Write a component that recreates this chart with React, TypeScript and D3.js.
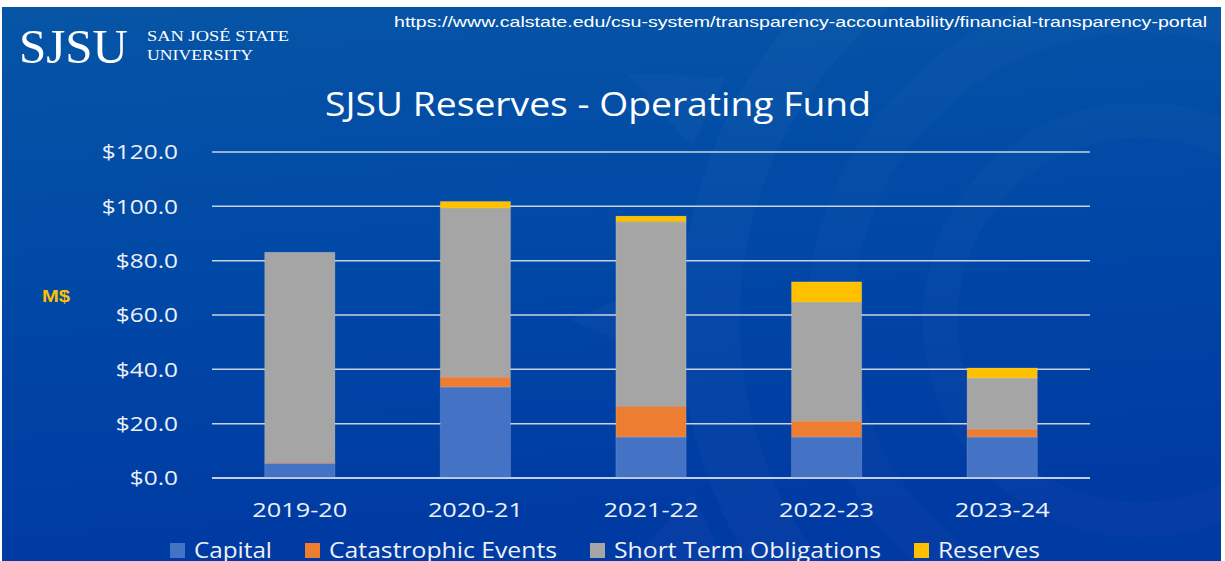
import React from "react";
import * as d3 from "d3";

const categories = ["2019-20", "2020-21", "2021-22", "2022-23", "2023-24"];
const seriesNames = ["Capital", "Catastrophic Events", "Short Term Obligations", "Reserves"];
const capital = [5.3, 33.5, 15.1, 15.1, 15.1];
const catastrophic = [0.3, 3.7, 11.3, 5.9, 2.9];
const shortTerm = [77.5, 62.1, 67.9, 43.7, 18.8];
const reserves = [0, 2.5, 2.1, 7.5, 3.7];
const yTicks = [0, 20, 40, 60, 80, 100, 120];

const colors = ["#4472C4", "#ED7D31", "#A5A5A5", "#FFC000"];
const legendTextWidths = [78, 228, 267, 102];

const W = 1225;
const H = 561;
const plotLeft = 212;
const plotRight = 1090;
const plotTop = 152;
const plotBottom = 478;

export default function App() {
  const rows = categories.map((c, i) => ({
    cat: c,
    [seriesNames[0]]: capital[i],
    [seriesNames[1]]: catastrophic[i],
    [seriesNames[2]]: shortTerm[i],
    [seriesNames[3]]: reserves[i],
  }));
  const stack = d3.stack<any>().keys(seriesNames);
  const layers = stack(rows);

  const x = d3
    .scaleBand<string>()
    .domain(categories)
    .range([plotLeft, plotRight])
    .paddingInner(0.6)
    .paddingOuter(0.3);
  const y = d3.scaleLinear().domain([0, 120]).range([plotBottom, plotTop]);

  // legend layout
  const legendY = 543;
  let lx = 170;
  const legendItems = seriesNames.map((name, i) => {
    const item = { name, color: colors[i], sx: lx, tx: lx + 24, w: legendTextWidths[i] };
    lx = lx + 24 + legendTextWidths[i] + 33;
    return item;
  });

  const sans = "'Open Sans', 'Noto Sans', sans-serif";

  return (
    <svg
      width={W}
      height={H}
      viewBox={`0 0 ${W} ${H}`}
      style={{ position: "fixed", left: 0, top: 0, display: "block" }}
    >
      <defs>
        <linearGradient id="bg" x1="0" y1="0" x2="0.15" y2="1">
          <stop offset="0" stopColor="#0655a6" />
          <stop offset="0.5" stopColor="#0048a6" />
          <stop offset="1" stopColor="#003aa3" />
        </linearGradient>
        <clipPath id="clipbg">
          <rect x={2} y={7} width={1219} height={554} />
        </clipPath>
      </defs>
      <rect x={0} y={0} width={W} height={H} fill="#ffffff" />
      <rect x={2} y={7} width={1219} height={554} fill="url(#bg)" />

      {/* faint emblem decoration */}
      <g clipPath="url(#clipbg)" fill="none" stroke="#ffffff">
        <circle cx={1140} cy={320} r={430} strokeOpacity={0.022} strokeWidth={60} />
        <circle cx={1140} cy={320} r={310} strokeOpacity={0.02} strokeWidth={45} />
        <circle cx={1140} cy={320} r={200} strokeOpacity={0.018} strokeWidth={35} />
        {d3.range(14).map((i) => {
          const a = (i / 14) * Math.PI * 2;
          const r1 = 480;
          const r2 = 570;
          const cx = 1140;
          const cy = 320;
          const p = [
            [cx + r1 * Math.cos(a - 0.08), cy + r1 * Math.sin(a - 0.08)],
            [cx + r2 * Math.cos(a), cy + r2 * Math.sin(a)],
            [cx + r1 * Math.cos(a + 0.08), cy + r1 * Math.sin(a + 0.08)],
          ];
          return (
            <path
              key={i}
              d={`M${p[0][0]},${p[0][1]}L${p[1][0]},${p[1][1]}L${p[2][0]},${p[2][1]}Z`}
              fill="#ffffff"
              fillOpacity={0.025}
              stroke="none"
            />
          );
        })}
      </g>

      {/* logo */}
      <text
        x={19}
        y={63}
        fontFamily="'Liberation Serif', 'DejaVu Serif', serif"
        fontSize={49}
        fill="#ffffff"
        textLength={109}
        lengthAdjust="spacingAndGlyphs"
      >
        SJSU
      </text>
      <text
        x={147}
        y={41}
        fontFamily="'Liberation Serif', 'DejaVu Serif', serif"
        fontSize={15.5}
        fill="#ffffff"
        textLength={142}
        lengthAdjust="spacingAndGlyphs"
      >
        SAN JOSÉ STATE
      </text>
      <text
        x={147}
        y={60}
        fontFamily="'Liberation Serif', 'DejaVu Serif', serif"
        fontSize={15.5}
        fill="#ffffff"
        textLength={106}
        lengthAdjust="spacingAndGlyphs"
      >
        UNIVERSITY
      </text>

      {/* URL */}
      <text
        x={394}
        y={27}
        fontFamily="'Liberation Sans', Arial, sans-serif"
        fontSize={15.5}
        fill="#ffffff"
        textLength={813}
        lengthAdjust="spacingAndGlyphs"
      >
        https://www.calstate.edu/csu-system/transparency-accountability/financial-transparency-portal
      </text>

      {/* title */}
      <text
        x={325}
        y={116}
        fontFamily={sans}
        fontSize={32}
        fill="#ffffff"
        textLength={546}
        lengthAdjust="spacingAndGlyphs"
      >
        SJSU Reserves - Operating Fund
      </text>

      {/* M$ */}
      <text
        x={42}
        y={302}
        fontFamily="'Liberation Sans', Arial, sans-serif"
        fontWeight="bold"
        fontSize={17}
        fill="#FFC000"
        textLength={28}
        lengthAdjust="spacingAndGlyphs"
      >
        M$
      </text>

      {/* gridlines */}
      <g>
        {yTicks.map((t) => (
          <line
            key={t}
            x1={plotLeft}
            x2={plotRight}
            y1={y(t)}
            y2={y(t)}
            stroke="#c9d2e2"
            strokeWidth={1.5}
          />
        ))}
      </g>

      {/* y tick labels */}
      <g>
        {yTicks.map((t) => (
          <text
            key={t}
            transform={`translate(178,${y(t)}) scale(1.22,1)`}
            textAnchor="end"
            dy="0.36em"
            fontFamily={sans}
            fontSize={20}
            fill="#eef1f7"
          >
            {"$" + d3.format(".1f")(t)}
          </text>
        ))}
      </g>

      {/* bars */}
      <g>
        {layers.map((layer, li) => (
          <g key={layer.key} fill={colors[li]}>
            {layer.map((d, i) => {
              const h = y(d[0]) - y(d[1]);
              if (h <= 0) return null;
              return (
                <rect
                  key={i}
                  x={x(categories[i])}
                  y={y(d[1])}
                  width={x.bandwidth()}
                  height={h}
                  stroke="#ffffff"
                  strokeOpacity={0.15}
                  strokeWidth={1}
                />
              );
            })}
          </g>
        ))}
      </g>

      {/* baseline */}
      <line x1={plotLeft} x2={plotRight} y1={y(0)} y2={y(0)} stroke="#d4dae6" strokeWidth={1.5} />

      {/* x labels */}
      <g>
        {categories.map((c) => (
          <text
            key={c}
            x={(x(c) as number) + x.bandwidth() / 2}
            y={517}
            textAnchor="middle"
            fontFamily={sans}
            fontSize={20}
            fill="#eef1f7"
            textLength={95}
            lengthAdjust="spacingAndGlyphs"
          >
            {c}
          </text>
        ))}
      </g>

      {/* legend */}
      <g>
        {legendItems.map((it) => (
          <g key={it.name}>
            <rect x={it.sx} y={legendY} width={15} height={15} fill={it.color} />
            <text
              x={it.tx}
              y={legendY + 15}
              fontFamily={sans}
              fontSize={21}
              fill="#eef1f7"
              textLength={it.w}
              lengthAdjust="spacingAndGlyphs"
            >
              {it.name}
            </text>
          </g>
        ))}
      </g>
    </svg>
  );
}
